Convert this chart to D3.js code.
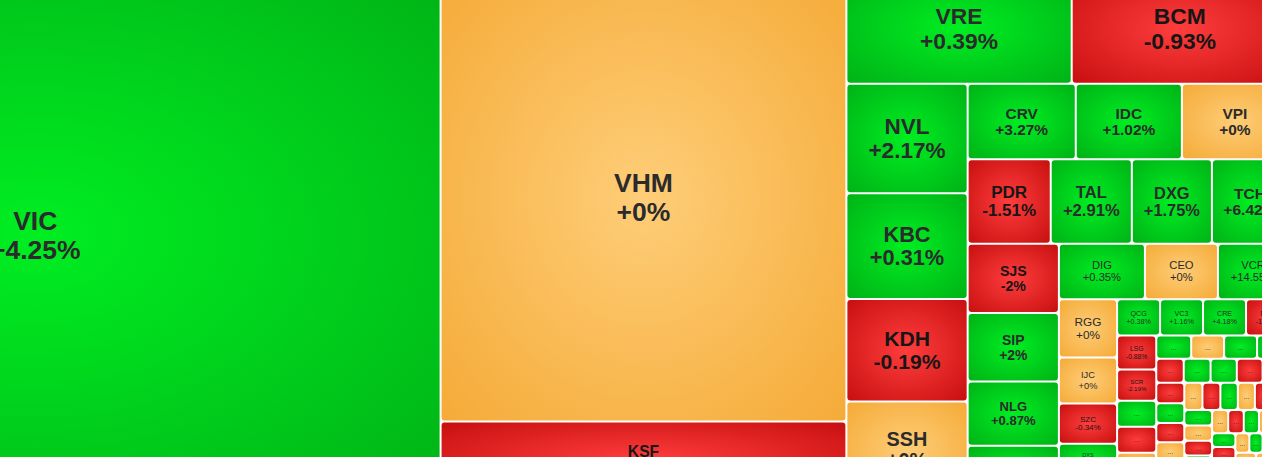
<!DOCTYPE html>
<html>
<head>
<meta charset="utf-8">
<script src="https://cdn.jsdelivr.net/npm/d3@7"></script>
<style>
  html, body { margin: 0; padding: 0; background: #fff; overflow: hidden; }
  .chart text { font-family: "Liberation Sans", Arial, sans-serif; }
</style>
</head>
<body>
<div class="chart"></div>
<script>
// tickers in the order the heatmap lays them out
const tickers = [
  "VIC", "VHM", "KSF", "VRE", "BCM", "NVL", "KBC", "KDH", "SSH",
  "CRV", "IDC", "VPI", "PDR", "TAL", "DXG", "TCH", "SJS", "SIP", "NLG", "HDG",
  "DIG", "CEO", "VCR", "RGG", "IJC", "SZC", "DXS", "HDC", "QCG", "VC3", "CRE", "NTL",
  "LSG", "SCR", "DPG", "TDC", "NBB", "LDG", "KHG", "CCL", "D2D", "TIG",
  "CKG", "HPX", "PPI", "NTB", "HAR",
  "ITC", "HQC", "NDN", "VPH", "HLD", "PVL", "API", "IDJ", "AAV", "C21",
  "CIG", "CLG", "DRH", "EVG", "FIR", "HTN", "HU1", "ITA", "KOS", "LHG",
  "NHA", "NVT", "OGC", "PTL", "SGR", "SC5", "SDU", "TN1", "TIX", "VRC",
  "VNI", "VHD", "DTA", "BII", "PV2", "PXA", "VC7", "TDH", "NRC", "DIH",
  "HD6", "LGL", "SHN"
];
// tile weights (read from tile areas)
const caps = [
  422298, 180630, 30780, 24750, 23760, 13189, 12705, 12342, 11616,
  8100, 7950, 7950, 6972, 6804, 6720, 6384, 6279, 6188, 5824, 4732,
  4730, 4015, 3850, 3364, 2668, 2320, 1624, 1508, 1548, 1548, 1548, 1512,
  1326, 1209, 1014, 1014, 936, 819, 805, 759, 759, 713,
  660, 645, 630, 620, 610,
  565, 548, 541, 528, 517, 503, 488, 482, 468, 459,
  452, 437, 431, 419, 408, 402, 391, 378, 372, 359,
  351, 338, 332, 318, 309, 302, 291, 279, 272, 258,
  251, 246, 238, 236, 229, 224, 221, 213, 209, 204,
  198, 196, 188
];
// % change
const changes = [
  4.25, 0, -1.47, 0.39, -0.93, 2.17, 0.31, -0.19, 0,
  3.27, 1.02, 0, -1.51, 2.91, 1.75, 6.42, -2, 2, 0.87, 0.6,
  0.35, 0, 14.55, 0, 0, -0.34, 1.3, -0.8, 0.38, 1.16, 4.18, -1.29,
  -0.88, -2.19, 1.4, -0.7, 0, 0.5, 0.9, 0, 1.8, 0.6,
  -1.3, 0.7, 2.2, -0.9, -1.1,
  -0.6, 1.2, -1.1, 0, -0.4, 0, 0, -2.3, 0.8, 0,
  -0.9, 0, 1.5, 0, -1.7, 0.5, 6.9, -0.3, 0, -1.4,
  2.1, 0, -0.7, 0.4, -3.1, 0, 1.9, -0.5, 0, 0.7,
  -1.2, 2.6, 0, -0.8, 1.1, -2.0, 0, 0.3, -1.6, 0,
  3.4, -0.2, 0.9
];
const ceilingTickers = ["HU1"];
// how many tickers go in each strip; whatever is left is squarified
const stripSizes = [1, 2, 2, 4, 3, 4, 4, 3, 5, 4, 6, 4, 5];

const width = 1262, height = 457;
const mapWidth = 1656, mapHeight = 523;
const offset = {left: -369, top: -26};

const svg = d3.select(".chart")
  .append("svg")
  .attr("width", width)
  .attr("height", height);

// tile shading
const shades = {
  up:   ["#00ee22", "#00b316"],
  down: ["#ff3d3d", "#c81010"],
  ref:  ["#fecd78", "#f5ab38"],
  ceil: ["#e84cf5", "#b413cc"]
};
const defs = svg.append("defs");
Object.entries(shades).forEach(([key, c]) => {
  const grad = defs.append("radialGradient")
    .attr("id", "grad-" + key)
    .attr("cx", "50%").attr("cy", "50%").attr("r", "70%");
  grad.append("stop").attr("offset", "0%").attr("stop-color", c[0]);
  grad.append("stop").attr("offset", "100%").attr("stop-color", c[1]);
});

const state = d => ceilingTickers.includes(d.name) ? "ceil"
  : d.change > 0 ? "up" : d.change < 0 ? "down" : "ref";

// build the hierarchy: strips + rest
const leaves = tickers.map((t, i) => ({name: t, cap: caps[i], change: changes[i]}));
let start = 0;
const groups = stripSizes.map(n => {
  const g = {children: leaves.slice(start, start + n)};
  start += n;
  return g;
});
groups.push({rest: true, children: leaves.slice(start)});

const root = d3.hierarchy({children: groups}).sum(d => d.cap || 0);

// strips are cut from the remaining space: a column when it's wide, a row when it's tall
function stripTile(node, x0, y0, x1, y1) {
  if (node.depth === 0) {
    let left = node.value;
    node.children.forEach(c => {
      if (x1 - x0 >= y1 - y0) {
        const cx = x0 + (x1 - x0) * c.value / left;
        c.x0 = x0; c.x1 = cx; c.y0 = y0; c.y1 = y1;
        x0 = cx;
      } else {
        const cy = y0 + (y1 - y0) * c.value / left;
        c.x0 = x0; c.x1 = x1; c.y0 = y0; c.y1 = cy;
        y0 = cy;
      }
      left -= c.value;
    });
  } else if (node.data.rest) {
    d3.treemapSquarify(node, x0, y0, x1, y1);
  } else if (x1 - x0 > y1 - y0) {
    d3.treemapDice(node, x0, y0, x1, y1);
  } else {
    d3.treemapSlice(node, x0, y0, x1, y1);
  }
}

d3.treemap()
  .size([mapWidth, mapHeight])
  .paddingInner(2)
  .tile(stripTile)(root);

const g = svg.append("g")
  .attr("transform", `translate(${offset.left},${offset.top})`);

const cell = g.selectAll("g.cell")
  .data(root.leaves())
  .join("g")
  .attr("class", "cell")
  .attr("transform", d => `translate(${d.x0},${d.y0})`);

cell.append("rect")
  .attr("width", d => d.x1 - d.x0)
  .attr("height", d => d.y1 - d.y0)
  .attr("rx", 3)
  .attr("fill", d => `url(#grad-${state(d.data)})`);

const fmt = c => (c >= 0 ? "+" : "") + c + "%";

cell.each(function(d) {
  const w = d.x1 - d.x0, h = d.y1 - d.y0, m = Math.min(w, h);
  const s = d3.select(this);
  const color = state(d.data) === "down" ? "#161616" : "#2b2b2b";
  if (m >= 26 && w >= 34) {
    const fs = Math.min(26.5, m * 0.21);
    [d.data.name, fmt(d.data.change)].forEach((t, i) => {
      s.append("text")
        .attr("x", w / 2)
        .attr("y", h / 2 + (i ? 0.54 : -0.54) * fs)
        .attr("text-anchor", "middle")
        .attr("dominant-baseline", "central")
        .attr("font-size", fs)
        .attr("font-weight", fs >= 12.8 ? "bold" : "normal")
        .attr("fill", color)
        .text(t);
    });
  } else {
    s.append("text")
      .attr("x", w / 2)
      .attr("y", h / 2)
      .attr("text-anchor", "middle")
      .attr("dominant-baseline", "central")
      .attr("font-size", 7)
      .attr("fill", "#333")
      .text("...");
  }
});
</script>
</body>
</html>
